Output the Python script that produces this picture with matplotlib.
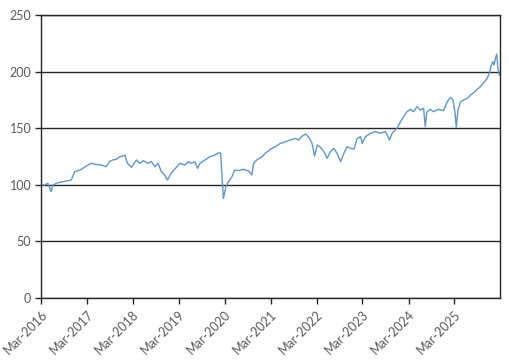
import pandas as pd
import matplotlib.pyplot as plt
import matplotlib.dates as mdates

# ------------------------------------------------------------
#  index level (start = 100)
# ------------------------------------------------------------
dates = [
    "2016-03-01", "2016-03-30", "2016-04-24", "2016-05-21", "2016-06-03",
    "2016-07-13", "2016-08-22", "2016-10-01", "2016-10-27", "2016-11-24",
    "2016-12-20", "2017-01-16", "2017-02-24", "2017-04-03", "2017-05-13",
    "2017-06-22", "2017-08-01", "2017-08-28", "2017-09-24", "2017-10-20",
    "2017-11-17", "2017-12-13", "2017-12-27", "2018-01-17", "2018-02-18",
    "2018-03-30", "2018-04-26", "2018-05-22", "2018-07-01", "2018-07-27",
    "2018-08-23", "2018-09-18", "2018-10-14", "2018-11-10", "2018-12-01",
    "2019-01-02", "2019-02-11", "2019-03-10", "2019-04-19", "2019-05-15",
    "2019-06-10", "2019-07-08", "2019-07-28", "2019-08-17", "2019-09-26",
    "2019-11-04", "2019-12-14", "2020-01-15", "2020-01-28", "2020-02-05",
    "2020-02-19", "2020-03-10", "2020-03-31", "2020-04-27", "2020-05-18",
    "2020-06-19", "2020-07-28", "2020-09-06", "2020-10-02", "2020-10-16",
    "2020-11-11", "2020-12-22", "2021-01-18", "2021-02-26", "2021-04-07",
    "2021-05-17", "2021-06-26", "2021-08-04", "2021-09-13", "2021-10-10",
    "2021-11-05", "2021-12-07", "2022-01-03", "2022-01-24", "2022-02-13",
    "2022-03-06", "2022-04-01", "2022-04-28", "2022-05-24", "2022-06-19",
    "2022-07-16", "2022-08-11", "2022-09-08", "2022-10-04", "2022-10-30",
    "2022-11-26", "2022-12-23", "2023-01-18", "2023-02-14", "2023-02-27",
    "2023-03-25", "2023-05-03", "2023-06-12", "2023-07-22", "2023-08-31",
    "2023-10-02", "2023-10-22", "2023-12-01", "2023-12-28", "2024-01-23",
    "2024-02-18", "2024-03-16", "2024-04-11", "2024-05-07", "2024-06-03",
    "2024-06-29", "2024-07-12", "2024-07-25", "2024-08-21", "2024-09-16",
    "2024-10-26", "2024-12-05", "2025-01-03", "2025-01-29", "2025-02-17",
    "2025-03-05", "2025-03-16", "2025-03-29", "2025-04-19", "2025-05-15",
    "2025-06-11", "2025-07-07", "2025-08-02", "2025-08-29", "2025-09-24",
    "2025-10-20", "2025-11-16", "2025-12-04", "2025-12-20", "2025-12-31",
    "2026-01-11", "2026-01-21", "2026-02-01", "2026-02-09", "2026-02-16",
    "2026-02-22",
]
values = [
    100.0, 99.8, 101.3, 94.0, 99.8,
    101.9, 102.8, 103.6, 104.2, 111.6,
    112.5, 113.7, 116.6, 119.0, 118.0,
    117.5, 116.0, 120.5, 122.0, 122.5,
    124.8, 125.4, 126.3, 119.0, 115.5,
    122.0, 119.0, 121.3, 119.0, 120.5,
    116.0, 119.0, 111.6, 108.7, 104.2,
    110.7, 115.5, 119.0, 117.5, 120.5,
    119.0, 120.5, 114.6, 119.0, 122.0,
    124.8, 126.3, 128.4, 127.8, 113.0,
    88.0, 98.3, 102.8, 107.0, 113.0,
    112.5, 113.7, 112.2, 108.7, 119.0,
    122.0, 124.8, 127.8, 131.4, 133.7,
    136.6, 138.0, 139.6, 141.0, 139.6,
    143.0, 144.9, 141.0, 136.6, 125.4,
    135.2, 133.1, 129.3, 123.4, 129.3,
    132.2, 127.8, 120.5, 127.8, 133.7,
    132.2, 131.5, 141.0, 142.5, 136.6,
    142.5, 145.5, 147.0, 145.5, 147.0,
    139.6, 145.5, 149.9, 155.7, 160.2,
    164.6, 166.7, 164.6, 169.0, 166.0,
    167.6, 151.4, 164.6, 166.7, 164.6,
    166.7, 165.5, 173.4, 177.3, 175.0,
    164.6, 150.8, 166.0, 173.4, 175.0,
    176.4, 179.3, 181.4, 184.3, 186.7,
    190.2, 194.0, 198.5, 205.8, 208.7,
    205.8, 211.8, 215.5, 202.9, 200.0,
    197.0,
]

y_ticks = [0, 50, 100, 150, 200, 250]
x_start = "2016-03-01"
x_end = "2026-02-24"

dt = pd.to_datetime(dates)

plt.rcParams['font.family'] = ['Lato', 'DejaVu Sans']

fig = plt.figure(figsize=(5.09, 3.63), dpi=100)
ax = fig.add_axes([0.0806, 0.179, 0.9011, 0.7797])

ax.plot(dt, values, color='#6096C8', linewidth=1.0)

ax.set_ylim(0, 250)
ax.set_yticks(y_ticks)
ax.set_xlim(pd.Timestamp(x_start), pd.Timestamp(x_end))
ax.xaxis.set_major_locator(mdates.MonthLocator(bymonth=3, bymonthday=1))
ax.xaxis.set_major_formatter(mdates.DateFormatter('%b-%Y'))

# black horizontal gridlines
ax.yaxis.grid(True, color='#262626', linewidth=1.0)
ax.set_axisbelow(True)

for s in ax.spines.values():
    s.set_color('#262626')
    s.set_linewidth(1.0)

ax.tick_params(axis='both', colors='#262626', labelcolor='#595959',
               labelsize=9, length=4, width=1.0, direction='out')
ax.tick_params(axis='y', pad=3)
plt.setp(ax.get_xticklabels(), rotation=45, ha='right',
         rotation_mode='anchor')

fig.savefig('out.png', dpi=100)
